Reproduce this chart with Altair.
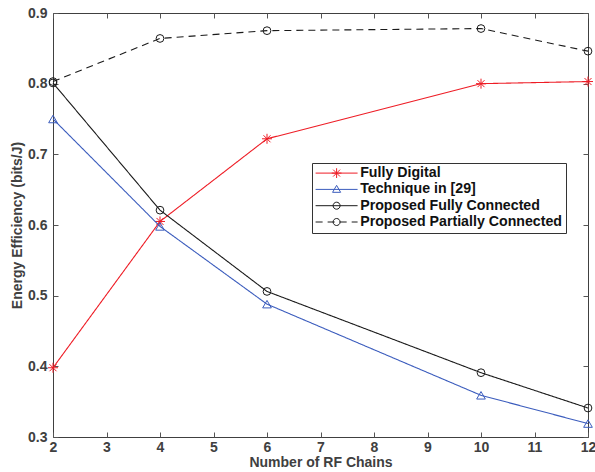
import altair as alt
import pandas as pd

# ---- data ----
rf_chains = [2, 4, 6, 10, 12]
fully_digital = [0.398, 0.605, 0.722, 0.800, 0.803]
technique_29 = [0.750, 0.598, 0.488, 0.359, 0.319]
prop_fully = [0.801, 0.621, 0.506, 0.391, 0.341]
prop_partial = [0.803, 0.864, 0.875, 0.878, 0.846]

series_names = ["Fully Digital", "Technique in [29]",
                "Proposed Fully Connected", "Proposed Partially Connected"]
series_values = [fully_digital, technique_29, prop_fully, prop_partial]
series_colors = ["#ee1c25", "#3b5cbd", "#1a1a1a", "#1a1a1a"]
series_dash = [[1, 0], [1, 0], [1, 0], [7, 5]]

x_ticks = [2, 3, 4, 5, 6, 7, 8, 9, 10, 11, 12]
y_ticks = [0.3, 0.4, 0.5, 0.6, 0.7, 0.8, 0.9]

rows = []
for name, vals in zip(series_names, series_values):
    for xv, yv in zip(rf_chains, vals):
        rows.append({"x": xv, "y": yv, "series": name})
df = pd.DataFrame(rows)

# marker shapes on the plot
ASTER = "M-1,0L1,0M0,-1L0,1M-0.7,-0.7L0.7,0.7M-0.7,0.7L0.7,-0.7"
marker_shapes = [ASTER, "triangle-up", "circle", "circle"]
marker_sizes = [100, 75, 60, 60]

# legend symbols: line + marker, drawn as wide custom paths
C = 2.23
LINE = "M-1,0L5.46,0"
CIRC = f"M{C+0.54:.2f},0A0.54,0.54,0,1,1,{C-0.54:.2f},0A0.54,0.54,0,1,1,{C+0.54:.2f},0"
legend_paths = [
    LINE + f"M{C-0.75:.2f},0L{C+0.75:.2f},0M{C:.2f},-0.75L{C:.2f},0.75"
           f"M{C-0.53:.2f},-0.53L{C+0.53:.2f},0.53M{C-0.53:.2f},0.53L{C+0.53:.2f},-0.53",
    LINE + f"M{C-0.62:.2f},0.45L{C:.2f},-0.62L{C+0.62:.2f},0.45Z",
    LINE + CIRC,
    "M-1,0L0.08,0M0.85,0L1.93,0M2.7,0L3.78,0M4.55,0L5.46,0" + CIRC,
]

FONT = "Liberation Sans"
AX = "#404040"

xscale = alt.Scale(domain=[2, 12], nice=False, zero=False)
yscale = alt.Scale(domain=[0.3, 0.9], nice=False, zero=False)

x_bottom = alt.Axis(orient="bottom", values=x_ticks, format="d", offset=-5, tickSize=5,
                    domain=False, labelPadding=3, title="Number of RF Chains",
                    titlePadding=1, labelFlush=False)
y_left = alt.Axis(orient="left", values=y_ticks, format=".1f", offset=-5, tickSize=5,
                  domain=False, labelPadding=6, title="Energy Efficiency (bits/J)",
                  titlePadding=3)
x_top = alt.Axis(orient="top", values=x_ticks, offset=-5, tickSize=5, domain=False,
                 labels=False, title=None)
y_right = alt.Axis(orient="right", values=y_ticks, offset=-5, tickSize=5, domain=False,
                   labels=False, title=None)

layers = []
for i, name in enumerate(series_names):
    if i == 0:
        xa, ya = x_bottom, y_left
    elif i == 1:
        xa, ya = x_top, y_right
    else:
        xa, ya = None, None
    base = alt.Chart(df).transform_filter(alt.datum.series == name)
    line = base.mark_line(color=series_colors[i], strokeWidth=1.1,
                          strokeDash=series_dash[i]).encode(
        x=alt.X("x:Q", scale=xscale, axis=xa),
        y=alt.Y("y:Q", scale=yscale, axis=ya),
    )
    pts = base.mark_point(shape=marker_shapes[i], size=marker_sizes[i],
                          color=series_colors[i], filled=False, strokeWidth=1,
                          opacity=1).encode(
        x=alt.X("x:Q", scale=xscale, axis=None),
        y=alt.Y("y:Q", scale=yscale, axis=None),
    )
    layers += [line, pts]

leg = alt.Legend(orient="none", legendX=259, legendY=150, title=None,
                 symbolSize=169, symbolStrokeWidth=1, labelOffset=31,
                 labelFontSize=14.2, labelFontWeight="bold", labelFont=FONT,
                 labelColor="#111111", padding=3, rowPadding=1.3,
                 strokeColor="#333333", fillColor="white", labelLimit=400)

legend_layer = alt.Chart(df).transform_filter("false").mark_point(
    filled=False, opacity=1, strokeWidth=1).encode(
    color=alt.Color("series:N", scale=alt.Scale(domain=series_names, range=series_colors),
                    legend=leg),
    shape=alt.Shape("series:N", scale=alt.Scale(domain=series_names, range=legend_paths),
                    legend=leg),
)
layers.append(legend_layer)

chart = alt.layer(*layers).resolve_axis(x="independent", y="independent").properties(
    width=535, height=424,
    autosize=alt.AutoSizeParams(type="none"),
    padding={"left": 53, "top": 13, "right": 7, "bottom": 35},
).configure_view(stroke="#404040", strokeWidth=1).configure_axis(
    grid=False, labelFont=FONT, titleFont=FONT, labelFontSize=14, titleFontSize=14,
    labelFontWeight="bold", titleFontWeight="bold", labelColor=AX, titleColor=AX,
    tickColor="#555555", tickWidth=1,
)

chart.save("out.html", embed_options={"renderer": "svg", "actions": False})
